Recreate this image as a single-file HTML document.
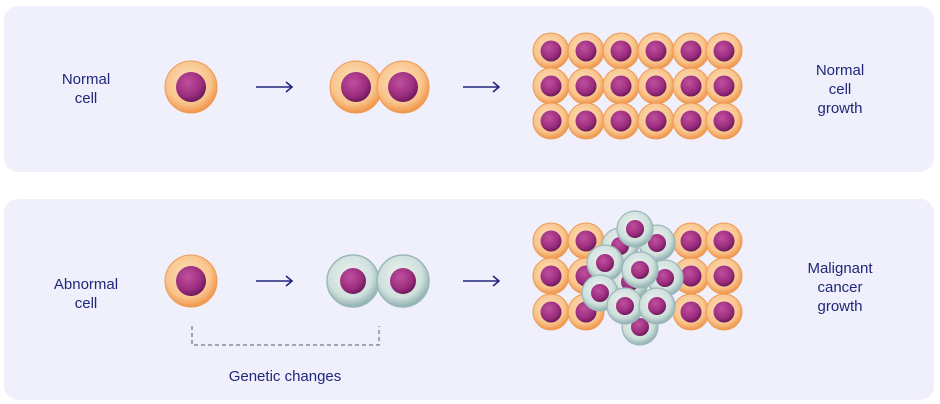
<!DOCTYPE html>
<html><head><meta charset="utf-8"><style>
html,body{margin:0;padding:0;background:#fff;}
svg{display:block;}
text{font-family:"Liberation Sans",sans-serif;font-size:15px;fill:#22267a;}
</style></head><body>
<svg width="940" height="404" viewBox="0 0 940 404" xmlns="http://www.w3.org/2000/svg">
<defs>
<radialGradient id="o" cx="45%" cy="40%" r="60%"><stop offset="0" stop-color="#fde3c0"/><stop offset="0.7" stop-color="#f9c48c"/><stop offset="1" stop-color="#f0954a"/></radialGradient>
<radialGradient id="n" cx="40%" cy="35%" r="65%"><stop offset="0" stop-color="#c0509e"/><stop offset="0.7" stop-color="#9c2d7e"/><stop offset="1" stop-color="#6e1b5c"/></radialGradient>
<radialGradient id="g" cx="45%" cy="40%" r="60%"><stop offset="0" stop-color="#eef4f2"/><stop offset="0.7" stop-color="#cfe0dc"/><stop offset="1" stop-color="#8fb0b0"/></radialGradient>
<g id="c"><circle r="18" fill="url(#o)" stroke="#ee9a55" stroke-width="1"/><circle r="10.5" fill="url(#n)"/></g>
<g id="C"><circle r="26" fill="url(#o)" stroke="#ee9a55" stroke-width="1"/><circle r="15" fill="url(#n)"/></g>
<g id="G"><circle r="26" fill="url(#g)" stroke="#9bb8b8" stroke-width="1.5"/><circle r="13" fill="url(#n)"/></g>
<g id="s"><circle r="18" fill="url(#g)" stroke="#9bb8b8" stroke-width="1.2"/><circle r="9" fill="url(#n)"/></g>
</defs>
<rect x="4" y="6" width="930" height="166" rx="14" fill="#eff0fb"/>
<rect x="4" y="199" width="930" height="201" rx="14" fill="#eff0fb"/>
<text x="86" y="84" text-anchor="middle">Normal</text>
<text x="86" y="103" text-anchor="middle">cell</text>
<text x="840" y="75" text-anchor="middle">Normal</text>
<text x="840" y="94" text-anchor="middle">cell</text>
<text x="840" y="113" text-anchor="middle">growth</text>
<text x="86" y="289" text-anchor="middle">Abnormal</text>
<text x="86" y="308" text-anchor="middle">cell</text>
<text x="840" y="273" text-anchor="middle">Malignant</text>
<text x="840" y="292" text-anchor="middle">cancer</text>
<text x="840" y="311" text-anchor="middle">growth</text>
<text x="285" y="381" text-anchor="middle">Genetic changes</text>
<g stroke="#22267a" stroke-width="1.6" fill="none">
<path d="M256 87H292M286 82L292 87L286 92"/>
<path d="M463 87H499M493 82L499 87L493 92"/>
<path d="M256 281H292M286 276L292 281L286 286"/>
<path d="M463 281H499M493 276L499 281L493 286"/>
</g>
<path d="M192 326V345H379V326" stroke="#555a7a" stroke-width="1" stroke-dasharray="4,3" fill="none"/>
<use href="#C" x="191" y="87"/>
<use href="#C" x="356" y="87"/>
<use href="#C" x="403" y="87"/>
<use href="#C" x="191" y="281"/>
<use href="#G" x="353" y="281"/>
<use href="#G" x="403" y="281"/>
<g>
<use href="#c" x="551" y="51"/><use href="#c" x="586" y="51"/><use href="#c" x="621" y="51"/><use href="#c" x="656" y="51"/><use href="#c" x="691" y="51"/><use href="#c" x="724" y="51"/>
<use href="#c" x="551" y="86"/><use href="#c" x="586" y="86"/><use href="#c" x="621" y="86"/><use href="#c" x="656" y="86"/><use href="#c" x="691" y="86"/><use href="#c" x="724" y="86"/>
<use href="#c" x="551" y="121"/><use href="#c" x="586" y="121"/><use href="#c" x="621" y="121"/><use href="#c" x="656" y="121"/><use href="#c" x="691" y="121"/><use href="#c" x="724" y="121"/>
</g>
<g>
<use href="#c" x="551" y="241"/><use href="#c" x="586" y="241"/><use href="#c" x="691" y="241"/><use href="#c" x="724" y="241"/>
<use href="#c" x="551" y="276"/><use href="#c" x="586" y="276"/><use href="#c" x="691" y="276"/><use href="#c" x="724" y="276"/>
<use href="#c" x="551" y="312"/><use href="#c" x="586" y="312"/><use href="#c" x="691" y="312"/><use href="#c" x="724" y="312"/>
<use href="#s" x="620" y="246"/><use href="#s" x="657" y="243"/><use href="#s" x="665" y="278"/><use href="#s" x="630" y="282"/>
<use href="#s" x="635" y="229"/><use href="#s" x="605" y="263"/><use href="#s" x="640" y="270"/>
<use href="#s" x="640" y="327"/><use href="#s" x="600" y="293"/><use href="#s" x="625" y="306"/><use href="#s" x="657" y="306"/>
</g>
</svg>
</body></html>
